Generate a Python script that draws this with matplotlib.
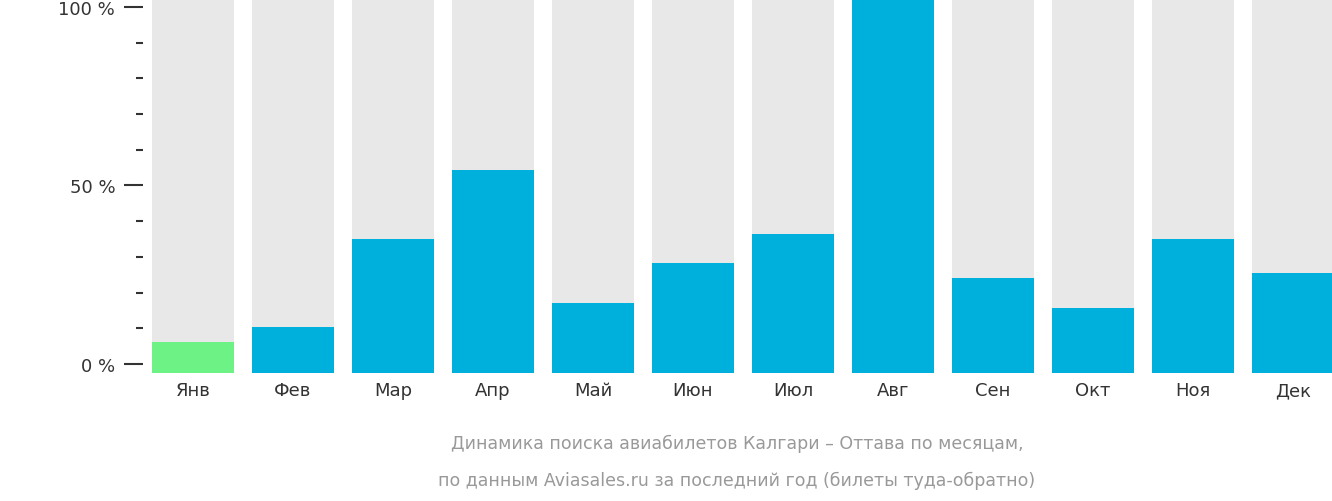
import matplotlib.pyplot as plt
import numpy as np

months = ["Янв", "Фев", "Мар", "Апр", "Май", "Июн", "Июл", "Авг", "Сен", "Окт", "Ноя", "Дек"]
values = [6.2, 10.4, 35.0, 54.3, 17.1, 28.3, 36.4, 102.2, 24.1, 15.7, 35.0, 25.5]
colors = ["#6cf285"] + ["#00b0dc"] * 11

base = -2.5
top = 102.2

fig = plt.figure(figsize=(13.32, 5.02), dpi=100)
ax = fig.add_axes([143 / 1332, 128 / 502, 1 - 143 / 1332, 374 / 502])
x = np.arange(len(months))
ax.bar(x, top - base, bottom=base, width=0.82, color="#e8e8e8")
ax.bar(x, np.array(values) - base, bottom=base, width=0.82, color=colors)
ax.set_xlim(-0.5, 11.39)
ax.set_ylim(base, top)
ax.set_yticks([0, 50, 100])
ax.set_yticklabels(["0 %", "50 %", "100 %"], fontsize=13, color="#333333")
ax.set_yticks(np.arange(10, 100, 10), minor=True)
ax.tick_params(axis="y", which="major", length=14, width=1.5, color="#333333", pad=6)
ax.tick_params(axis="y", which="minor", length=5, width=1.5, color="#333333")
ax.set_xticks(x)
ax.set_xticklabels(months, fontsize=13, color="#333333")
ax.tick_params(axis="x", length=0, pad=6)
for s in ax.spines.values():
    s.set_visible(False)

fig.text(0.5 + 71 / 1332, 58 / 502, "Динамика поиска авиабилетов Калгари – Оттава по месяцам,",
         ha="center", va="center", fontsize=12.5, color="#999999")
fig.text(0.5 + 71 / 1332, 21 / 502, "по данным Aviasales.ru за последний год (билеты туда-обратно)",
         ha="center", va="center", fontsize=12.5, color="#999999")
fig.savefig("out.png", dpi=100)
